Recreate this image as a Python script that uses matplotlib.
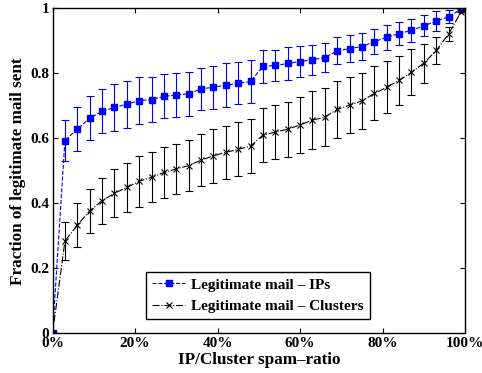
import matplotlib
matplotlib.use("Agg")
import matplotlib.pyplot as plt

plt.rcParams['font.family'] = ['Liberation Serif', 'DejaVu Serif']
plt.rcParams['font.weight'] = 'bold'

# spam-ratio bins (%)
ratio = [0, 3, 6, 9, 12, 15, 18, 21, 24, 27, 30, 33, 36, 39, 42, 45, 48,
         51, 54, 57, 60, 63, 66, 69, 72, 75, 78, 81, 84, 87, 90, 93, 96, 99]

ip_frac = [0.0, 0.593, 0.628, 0.662, 0.683, 0.695, 0.705, 0.716, 0.719, 0.729,
           0.733, 0.737, 0.752, 0.757, 0.763, 0.769, 0.775, 0.821, 0.824, 0.830,
           0.836, 0.842, 0.848, 0.869, 0.876, 0.882, 0.897, 0.911, 0.922, 0.932,
           0.946, 0.960, 0.974, 0.997]
ip_err = [0.0, 0.063, 0.068, 0.068, 0.068, 0.071, 0.072, 0.071, 0.070, 0.068,
          0.068, 0.067, 0.065, 0.066, 0.067, 0.065, 0.065, 0.051, 0.049, 0.050,
          0.048, 0.046, 0.045, 0.042, 0.042, 0.042, 0.039, 0.038, 0.035, 0.035,
          0.032, 0.031, 0.020, 0.0]

cl_frac = [0.0, 0.284, 0.333, 0.377, 0.408, 0.431, 0.449, 0.468, 0.480, 0.495,
           0.506, 0.516, 0.533, 0.546, 0.557, 0.566, 0.576, 0.610, 0.619, 0.628,
           0.641, 0.656, 0.665, 0.689, 0.702, 0.715, 0.738, 0.757, 0.778, 0.803,
           0.831, 0.870, 0.921, 0.988]
cl_err = [0.0, 0.058, 0.067, 0.067, 0.070, 0.074, 0.076, 0.078, 0.077, 0.077,
          0.078, 0.079, 0.080, 0.082, 0.082, 0.083, 0.083, 0.082, 0.082, 0.085,
          0.086, 0.088, 0.090, 0.087, 0.087, 0.087, 0.083, 0.080, 0.076, 0.071,
          0.060, 0.041, 0.022, 0.0]

fig = plt.figure(figsize=(4.82, 3.73), dpi=100)
ax = fig.add_axes([0.109, 0.106, 0.856, 0.872])

l1, = ax.plot(ratio, ip_frac, '--', color='blue', lw=0.8,
              marker='s', ms=4.6, mfc='blue', mec='blue',
              label='Legitimate mail \u2013 IPs')
ax.errorbar(ratio, ip_frac, yerr=ip_err, fmt='none', ecolor='blue',
            elinewidth=0.8, capsize=3.2, capthick=0.8)

l2, = ax.plot(ratio, cl_frac, '-.', color='black', lw=0.8,
              marker='x', ms=4.6, mew=0.8, mec='black',
              label='Legitimate mail \u2013 Clusters')
ax.errorbar(ratio, cl_frac, yerr=cl_err, fmt='none', ecolor='black',
            elinewidth=0.8, capsize=3.2, capthick=0.8)

ax.set_xlim(0, 100)
ax.set_ylim(0, 1)
ax.set_xticks([0, 20, 40, 60, 80, 100])
ax.set_xticklabels(['0%', '20%', '40%', '60%', '80%', '100%'])
ax.set_yticks([0, 0.2, 0.4, 0.6, 0.8, 1])
ax.set_yticklabels(['0', '0.2', '0.4', '0.6', '0.8', '1'])
ax.tick_params(direction='in', top=True, right=True, length=3.5,
               width=0.8, labelsize=11, pad=2.5)
for s in ax.spines.values():
    s.set_linewidth(1.0)

ax.set_xlabel('IP/Cluster spam\u2013ratio', fontsize=12.3, fontweight='bold', labelpad=1.5)
ax.set_ylabel('Fraction of legitimate mail sent', fontsize=12.3, fontweight='bold', labelpad=3)

leg = ax.legend(handles=[l1, l2], loc='lower right', bbox_to_anchor=(0.77, 0.044),
                borderaxespad=0, fancybox=False, framealpha=1, edgecolor='black',
                handlelength=2.2, handletextpad=0.4,
                prop={'weight': 'bold', 'size': 11})
leg.get_frame().set_linewidth(1.0)

fig.savefig('out.png', dpi=100)
